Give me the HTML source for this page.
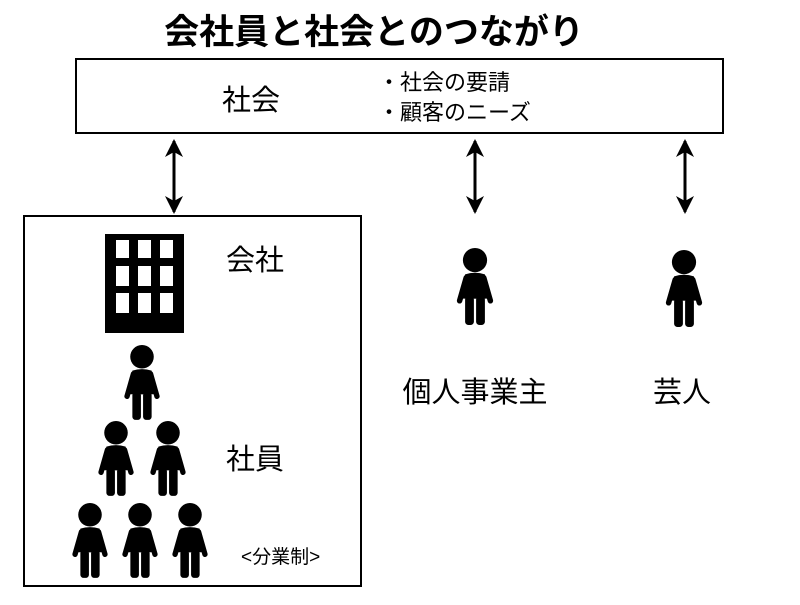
<!DOCTYPE html>
<html><head><meta charset="utf-8"><style>
body{margin:0;background:#fff;}
</style></head><body>
<svg width="800" height="600" xmlns="http://www.w3.org/2000/svg" style="font-family:'Liberation Sans','Noto Sans CJK JP',sans-serif">
<defs>
<g id="p">
<circle cx="0" cy="11" r="11" fill="#000"/>
<path d="M-9,24 Q0,21 9,24 L11,46 L-11,46 Z" fill="#000"/>
<rect x="-9" y="26" width="18" height="20" fill="#000"/>
<line x1="-8" y1="27" x2="-14" y2="48" stroke="#000" stroke-width="5" stroke-linecap="round"/>
<line x1="8" y1="27" x2="14" y2="48" stroke="#000" stroke-width="5" stroke-linecap="round"/>
<rect x="-9" y="44" width="8" height="26" rx="3" fill="#000"/>
<rect x="1" y="44" width="8" height="26" rx="3" fill="#000"/>
</g>
</defs>
<text x="374" y="44" font-size="35" font-weight="bold" text-anchor="middle">会社員と社会とのつながり</text>
<rect x="76" y="59" width="647" height="74" fill="none" stroke="#000" stroke-width="2"/>
<text x="251" y="110" font-size="29" text-anchor="middle">社会</text>
<text x="378" y="90" font-size="22">・社会の要請</text>
<text x="378" y="120" font-size="22">・顧客のニーズ</text>
<g stroke="#000" stroke-width="3">
<line x1="174" y1="141" x2="174" y2="212"/>
<line x1="475" y1="141" x2="475" y2="212"/>
<line x1="685" y1="141" x2="685" y2="212"/>
</g>
<g fill="#000">
<path d="M174,139 L165,157 L174,152 L183,157Z"/><path d="M174,214 L165,196 L174,201 L183,196Z"/>
<path d="M475,139 L466,157 L475,152 L484,157Z"/><path d="M475,214 L466,196 L475,201 L484,196Z"/>
<path d="M685,139 L676,157 L685,152 L694,157Z"/><path d="M685,214 L676,196 L685,201 L694,196Z"/>
</g>
<rect x="24" y="216" width="337" height="370" fill="none" stroke="#000" stroke-width="2"/>
<rect x="105" y="234" width="79" height="99" fill="#000"/>
<g fill="#fff">
<rect x="116" y="240" width="13" height="18"/><rect x="138" y="240" width="13" height="18"/><rect x="160" y="240" width="13" height="18"/>
<rect x="116" y="266" width="13" height="20"/><rect x="138" y="266" width="13" height="20"/><rect x="160" y="266" width="13" height="20"/>
<rect x="116" y="293" width="13" height="20"/><rect x="138" y="293" width="13" height="20"/><rect x="160" y="293" width="13" height="20"/>
</g>
<text x="226" y="270" font-size="29">会社</text>
<text x="226" y="469" font-size="29">社員</text>
<text x="241" y="563" font-size="19">&lt;分業制&gt;</text>
<use href="#p" transform="translate(142,345) scale(1.07)"/>
<use href="#p" transform="translate(116,421) scale(1.07)"/>
<use href="#p" transform="translate(168,421) scale(1.07)"/>
<use href="#p" transform="translate(90,503) scale(1.07)"/>
<use href="#p" transform="translate(140,503) scale(1.07)"/>
<use href="#p" transform="translate(190,503) scale(1.07)"/>
<use href="#p" transform="translate(475,248) scale(1.1)"/>
<use href="#p" transform="translate(684,250) scale(1.1)"/>
<text x="475" y="402" font-size="29" text-anchor="middle">個人事業主</text>
<text x="682" y="402" font-size="29" text-anchor="middle">芸人</text>
</svg>
</body></html>
